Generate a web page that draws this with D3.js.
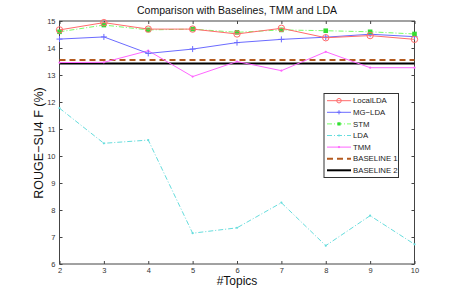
<!doctype html>
<html>
<head>
<meta charset="utf-8">
<script src="https://cdn.jsdelivr.net/npm/d3@7"></script>
<style>
  body { margin: 0; background: #fff; }
  svg { display: block; font-family: "Liberation Sans", Arial, sans-serif; }
</style>
</head>
<body>
<svg id="chart" width="457" height="298"></svg>
<script>
const topics = [2, 3, 4, 5, 6, 7, 8, 9, 10];
const localLDA = [14.67, 14.94, 14.70, 14.70, 14.52, 14.73, 14.38, 14.46, 14.32];
const mgLDA = [14.33, 14.41, 13.80, 13.96, 14.20, 14.32, 14.40, 14.51, 14.42];
const stm = [14.60, 14.85, 14.67, 14.70, 14.58, 14.67, 14.64, 14.60, 14.52];
const lda = [11.77, 10.47, 10.59, 7.14, 7.34, 8.27, 6.68, 7.79, 6.73];
const tmm = [13.46, 13.47, 13.90, 12.94, 13.50, 13.16, 13.86, 13.27, 13.27];
const baseline1 = 13.56;
const baseline2 = 13.43;
const yTicks = [6, 7, 8, 9, 10, 11, 12, 13, 14, 15];

const svg = d3.select("#chart");
const plotLeft = 59.5, plotRight = 414.5, plotTop = 21, plotBottom = 264;
const x = d3.scaleLinear().domain([2, 10]).range([plotLeft, plotRight]);
const y = d3.scaleLinear().domain([6, 15]).range([plotBottom, plotTop]);

const series = [
  { name: "LocalLDA", values: localLDA, color: "#ff6b6b", dash: null, marker: "circle" },
  { name: "MG\u2212LDA", values: mgLDA, color: "#6b6bff", dash: null, marker: "plus" },
  { name: "STM", values: stm, color: "#77ff66", dash: "5,2,1,2", marker: "star" },
  { name: "LDA", values: lda, color: "#66dddd", dash: "5,2,1,2", marker: "dot" },
  { name: "TMM", values: tmm, color: "#ff66ff", dash: null, marker: "dot" }
];

// axes box, MATLAB style ticks inside
const g = svg.append("g");
g.append("rect").attr("x", plotLeft).attr("y", plotTop)
  .attr("width", plotRight - plotLeft).attr("height", plotBottom - plotTop)
  .attr("fill", "none").attr("stroke", "#444").attr("stroke-width", 1);

const styleAxis = sel => {
  sel.select(".domain").remove();
  sel.selectAll("line").attr("stroke", "#444");
  sel.selectAll("text").attr("font-size", 7.5).attr("fill", "#333");
};
g.append("g").attr("transform", `translate(0,${plotBottom})`)
  .call(d3.axisBottom(x).tickValues(topics).tickSize(-3).tickPadding(4)).call(styleAxis);
g.append("g").attr("transform", `translate(${plotLeft},0)`)
  .call(d3.axisLeft(y).tickValues(yTicks).tickSize(-3).tickPadding(4)).call(styleAxis);
g.append("g").attr("transform", `translate(0,${plotTop})`)
  .call(d3.axisTop(x).tickValues(topics).tickSize(-3).tickFormat("")).call(styleAxis);
g.append("g").attr("transform", `translate(${plotRight},0)`)
  .call(d3.axisRight(y).tickValues(yTicks).tickSize(-3).tickFormat("")).call(styleAxis);

const line = d3.line().x((d, i) => x(topics[i])).y(d => y(d));

function drawMarker(sel, type, color, cx, cy, k = 1) {
  if (type === "circle") {
    sel.append("circle").attr("cx", cx).attr("cy", cy).attr("r", 3.2 * k)
      .attr("fill", "none").attr("stroke", color).attr("stroke-width", 1);
  } else if (type === "plus") {
    const r = 3 * k;
    sel.append("path").attr("d", `M${cx - r},${cy}H${cx + r}M${cx},${cy - r}V${cy + r}`)
      .attr("stroke", color).attr("stroke-width", 1);
  } else if (type === "star") {
    const r = 2.3 * k;
    sel.append("rect").attr("x", cx - r).attr("y", cy - r).attr("width", 2 * r).attr("height", 2 * r)
      .attr("fill", "#33dd33").attr("stroke", "none");
  } else if (type === "dot") {
    sel.append("circle").attr("cx", cx).attr("cy", cy).attr("r", 1.1).attr("fill", color);
  }
}

// baselines
g.append("line").attr("x1", plotLeft).attr("x2", plotRight)
  .attr("y1", y(baseline2)).attr("y2", y(baseline2))
  .attr("stroke", "#000").attr("stroke-width", 2);
g.append("line").attr("x1", plotLeft).attr("x2", plotRight)
  .attr("y1", y(baseline1)).attr("y2", y(baseline1))
  .attr("stroke", "#b35a1f").attr("stroke-width", 2).attr("stroke-dasharray", "6,4");

const drawOrder = [3, 4, 1, 2, 0];
drawOrder.forEach(k => {
  const s = series[k];
  const sg = g.append("g");
  sg.append("path").datum(s.values).attr("d", line).attr("fill", "none")
    .attr("stroke", s.color).attr("stroke-width", 1)
    .attr("stroke-dasharray", s.dash);
  s.values.forEach((v, i) => drawMarker(sg, s.marker, s.color, x(topics[i]), y(v)));
});

// legend
const legend = svg.append("g");
const lx = 324, ly = 93.5, lw = 74.5, lh = 84;
legend.append("rect").attr("x", lx).attr("y", ly).attr("width", lw).attr("height", lh)
  .attr("fill", "#fff").attr("stroke", "#333").attr("stroke-width", 1);
const entries = series.map(s => ({ ...s, width: 1 })).concat([
  { name: "BASELINE 1", color: "#b35a1f", dash: "6,4", marker: null, width: 2 },
  { name: "BASELINE 2", color: "#000", dash: null, marker: null, width: 2 }
]);
entries.forEach((e, i) => {
  const yy = ly + 7.2 + i * 11.6;
  legend.append("line").attr("x1", lx + 3).attr("x2", lx + 27).attr("y1", yy).attr("y2", yy)
    .attr("stroke", e.color).attr("stroke-width", e.width).attr("stroke-dasharray", e.dash);
  if (e.marker) drawMarker(legend, e.marker, e.color, lx + 15, yy, 0.7);
  legend.append("text").attr("x", lx + 29).attr("y", yy + 2.7).attr("font-size", 7.8)
    .attr("fill", "#222").text(e.name);
});

// titles
svg.append("text").attr("x", 237).attr("y", 14).attr("text-anchor", "middle")
  .attr("font-size", 10.5).attr("fill", "#111").text("Comparison with Baselines, TMM and LDA");
svg.append("text").attr("x", 237).attr("y", 285).attr("text-anchor", "middle")
  .attr("font-size", 12).attr("fill", "#111").text("#Topics");
svg.append("text").attr("transform", "translate(43,143) rotate(-90)").attr("text-anchor", "middle")
  .attr("font-size", 12.5).attr("fill", "#111").text("ROUGE\u2212SU4 F (%)");
</script>
</body>
</html>
